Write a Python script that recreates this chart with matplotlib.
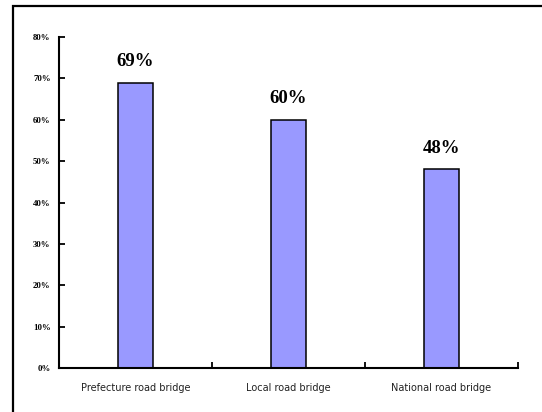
import matplotlib.pyplot as plt
import matplotlib.patches as patches
from matplotlib.ticker import FuncFormatter

categories = ["Prefecture road bridge", "Local road bridge", "National road bridge"]
shares = [69, 60, 48]
y_ticks = [0, 10, 20, 30, 40, 50, 60, 70, 80]

fig = plt.figure(figsize=(5.42, 4.12), dpi=100)

# outer frame round the whole chart
frame = patches.Rectangle((13 / 542, -0.05), 1.2, (412 - 6) / 412 + 0.05,
                          transform=fig.transFigure, fill=False,
                          edgecolor="black", linewidth=1.6)
fig.patches.append(frame)

ax = fig.add_axes([59 / 542, 1 - 368 / 412, (518 - 59) / 542, (368 - 37) / 412])

x = list(range(len(categories)))
ax.bar(x, shares, width=0.23, color="#9999ff", edgecolor="black", linewidth=1.1)

for xi, v in zip(x, shares):
    ax.text(xi, v + 3.0, f"{v}%", ha="center", va="bottom",
            fontfamily="Liberation Serif", fontweight="bold", fontsize=13.5)

ax.set_xlim(-0.5, 2.5)
ax.set_ylim(0, 80)

ax.set_yticks(y_ticks)
ax.yaxis.set_major_formatter(FuncFormatter(lambda v, p: f"{int(v)}%"))
ax.set_xticks([-0.5, 0.5, 1.5, 2.5])
ax.set_xticklabels([])
ax.set_xticks(x, minor=True)
ax.set_xticklabels(categories, minor=True)

ax.tick_params(axis="y", direction="in", length=4, width=1.3, pad=6, labelsize=6.3)
ax.tick_params(axis="x", which="major", direction="in", length=4, width=1.3)
ax.tick_params(axis="x", which="minor", length=0, pad=11, labelsize=7, labelcolor="#222222")

for lbl in ax.get_yticklabels():
    lbl.set_fontfamily("Liberation Serif")
    lbl.set_fontweight("bold")

for side in ["top", "right"]:
    ax.spines[side].set_visible(False)
for side in ["left", "bottom"]:
    ax.spines[side].set_linewidth(1.5)

plt.savefig("out.png", dpi=100)
